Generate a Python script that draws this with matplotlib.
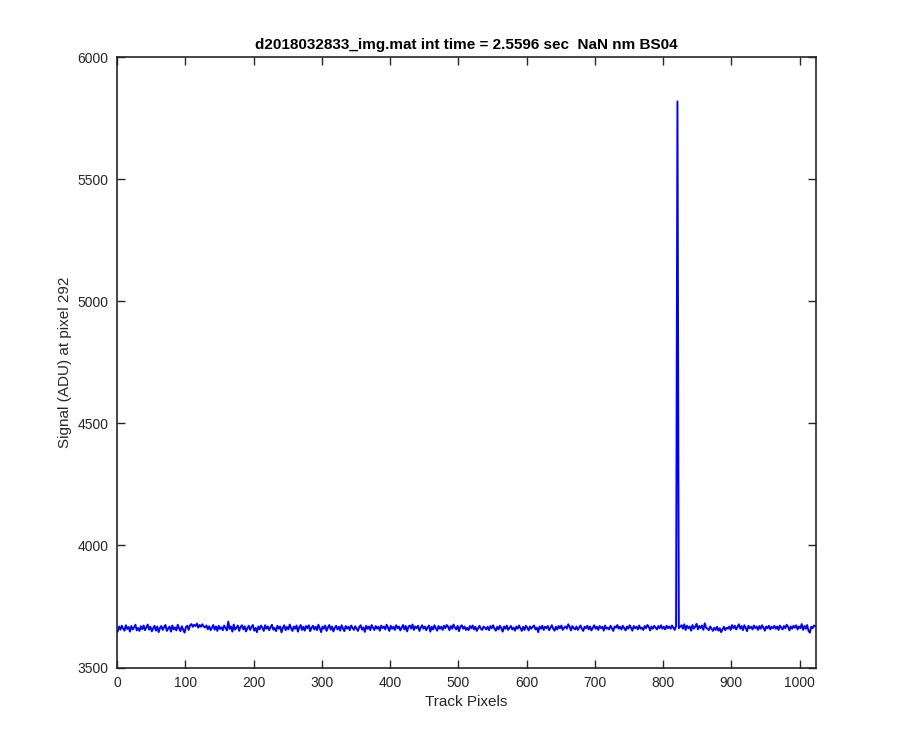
import matplotlib

matplotlib.use("Agg")
import matplotlib.pyplot as plt
import numpy as np

# ── data (every second track pixel) ──────────────────────────────────────────

signal = [
  3648, 3668, 3655, 3671, 3660, 3651, 3673, 3658, 3666, 3647, 3670, 3656, 3664, 3675, 3652, 3662,
  3650, 3669, 3657, 3672, 3653, 3665, 3676, 3655, 3667, 3648, 3661, 3671, 3651, 3668, 3645, 3662,
  3670, 3654, 3666, 3674, 3650, 3660, 3668, 3647, 3672, 3656, 3664, 3652, 3675, 3661, 3649, 3669,
  3655, 3643, 3666, 3671, 3654, 3673, 3678, 3667, 3675, 3670, 3680, 3663, 3674, 3667, 3677, 3668,
  3664, 3672, 3657, 3669, 3653, 3663, 3674, 3655, 3668, 3650, 3671, 3658, 3665, 3653, 3672, 3662,
  3652, 3688, 3658, 3668, 3647, 3676, 3655, 3663, 3672, 3650, 3666, 3673, 3656, 3669, 3648, 3661,
  3671, 3654, 3666, 3674, 3651, 3662, 3645, 3668, 3656, 3672, 3663, 3650, 3673, 3659, 3668, 3653,
  3665, 3675, 3655, 3662, 3649, 3671, 3659, 3668, 3644, 3663, 3673, 3653, 3666, 3656, 3676, 3661,
  3650, 3668, 3659, 3672, 3647, 3664, 3674, 3654, 3667, 3651, 3670, 3661, 3673, 3649, 3663, 3671,
  3656, 3667, 3653, 3675, 3661, 3645, 3668, 3659, 3672, 3650, 3664, 3674, 3655, 3668, 3648, 3662,
  3671, 3656, 3667, 3651, 3673, 3661, 3649, 3670, 3659, 3667, 3653, 3672, 3663, 3654, 3669, 3659,
  3650, 3667, 3673, 3655, 3664, 3646, 3671, 3659, 3668, 3653, 3674, 3663, 3654, 3670, 3659, 3667,
  3651, 3672, 3661, 3668, 3656, 3675, 3663, 3650, 3671, 3659, 3667, 3654, 3673, 3661, 3668, 3652,
  3663, 3674, 3656, 3670, 3648, 3667, 3672, 3659, 3676, 3654, 3668, 3661, 3671, 3650, 3664, 3673,
  3659, 3668, 3653, 3664, 3672, 3647, 3667, 3656, 3673, 3661, 3651, 3670, 3659, 3667, 3654, 3671,
  3661, 3674, 3667, 3653, 3670, 3659, 3676, 3663, 3656, 3671, 3649, 3667, 3673, 3659, 3668, 3654,
  3663, 3653, 3670, 3661, 3672, 3656, 3667, 3650, 3661, 3671, 3659, 3654, 3668, 3663, 3656, 3667,
  3653, 3670, 3661, 3673, 3659, 3651, 3667, 3656, 3671, 3661, 3647, 3668, 3659, 3672, 3654, 3663,
  3670, 3656, 3663, 3651, 3668, 3659, 3672, 3661, 3650, 3667, 3654, 3671, 3663, 3652, 3668, 3659,
  3667, 3672, 3656, 3663, 3645, 3668, 3659, 3671, 3654, 3667, 3661, 3670, 3653, 3663, 3673, 3659,
  3651, 3667, 3656, 3670, 3661, 3672, 3654, 3663, 3668, 3659, 3677, 3667, 3652, 3670, 3661, 3656,
  3668, 3654, 3663, 3672, 3659, 3650, 3667, 3661, 3671, 3656, 3668, 3652, 3663, 3673, 3659, 3667,
  3654, 3670, 3661, 3667, 3651, 3672, 3659, 3663, 3656, 3671, 3661, 3650, 3668, 3663, 3674, 3659,
  3667, 3656, 3671, 3661, 3652, 3668, 3659, 3673, 3663, 3651, 3670, 3661, 3667, 3656, 3672, 3659,
  3663, 3654, 3670, 3661, 3674, 3667, 3652, 3668, 3659, 3671, 3663, 3656, 3670, 3661, 3673, 3659,
  3667, 3656, 3671, 3661, 3668, 3659, 3672, 3663, 3654, 3670, 5820, 3661, 3667, 3673, 3659, 3677,
  3654, 3671, 3661, 3668, 3651, 3674, 3659, 3667, 3679, 3656, 3670, 3661, 3672, 3654, 3681, 3663,
  3659, 3653, 3668, 3659, 3650, 3663, 3654, 3667, 3651, 3661, 3645, 3656, 3667, 3653, 3663, 3659,
  3668, 3654, 3674, 3661, 3671, 3656, 3667, 3677, 3659, 3670, 3653, 3673, 3663, 3649, 3671, 3661,
  3667, 3656, 3672, 3661, 3668, 3654, 3670, 3659, 3673, 3663, 3651, 3668, 3661, 3671, 3656, 3667,
  3661, 3671, 3659, 3668, 3654, 3672, 3663, 3656, 3670, 3661, 3675, 3667, 3652, 3668, 3659, 3671,
  3663, 3673, 3656, 3668, 3661, 3678, 3654, 3670, 3659, 3674, 3650, 3643, 3667, 3661, 3672, 3668,
]
track_pixels = np.arange(1, 1025, 2)

x_ticks = list(range(0, 1001, 100))
y_ticks = [3500, 4000, 4500, 5000, 5500, 6000]

title = "d2018032833_img.mat int time = 2.5596 sec  NaN nm BS04"

# ── plot ──────────────────────────────────────────────────────────────────────

plt.rcParams["font.family"] = ["Liberation Sans", "DejaVu Sans"]
axis_color = "#262626"

fig = plt.figure(figsize=(9, 7.5), dpi=100)
ax = fig.add_axes([0.13, 0.11, 0.7767, 0.8134])

ax.plot(track_pixels, signal, color=(0, 0, 1), linewidth=1.4)

ax.set_xlim(0, 1024)
ax.set_ylim(3500, 6000)
ax.set_xticks(x_ticks)
ax.set_yticks(y_ticks)
ax.tick_params(direction="in", length=6, width=1.0, top=True, right=True,
               colors=axis_color, labelsize=10, pad=6)
for spine in ax.spines.values():
  spine.set_color(axis_color)
  spine.set_linewidth(1.2)

ax.set_xlabel("Track Pixels", fontsize=11, color=axis_color)
ax.set_ylabel("Signal (ADU) at pixel 292", fontsize=11, color=axis_color)
ax.set_title(title, fontsize=11, fontweight="bold", color="black", pad=6)

fig.savefig("out.png", dpi=100)
plt.close(fig)
